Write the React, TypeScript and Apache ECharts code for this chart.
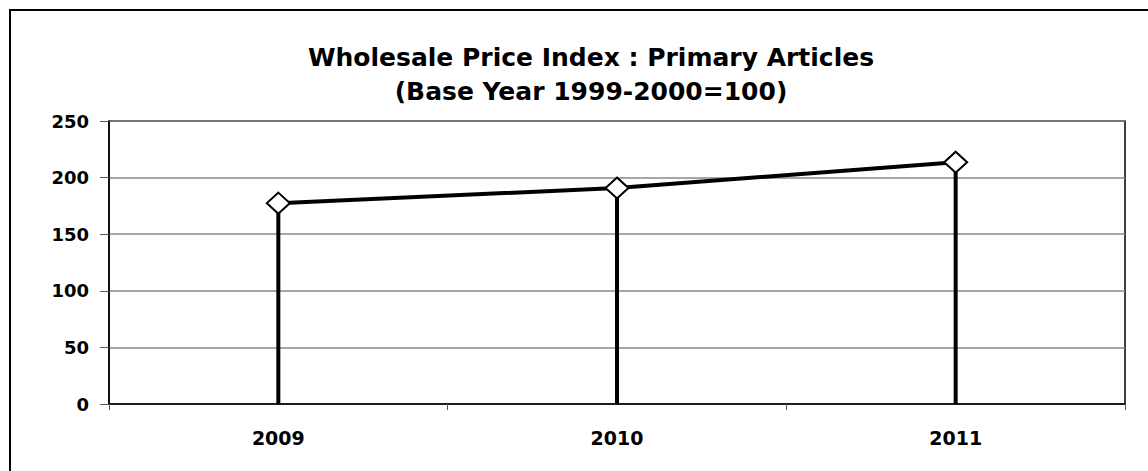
import React, { useEffect, useRef } from "react";
import * as echarts from "echarts";

const categories = ["2009", "2010", "2011"];
const values = [177.4, 190.8, 213.6];
const yTicks = { min: 0, max: 250, interval: 50 };
const titleLines = ["Wholesale Price Index : Primary Articles", "(Base Year 1999-2000=100)"];

const FONT = "DejaVu Sans, Liberation Sans, Arial, sans-serif";

export default function App() {
  const ref = useRef<HTMLDivElement>(null);
  useEffect(() => {
    if (!ref.current) return;
    const chart = echarts.init(ref.current, null, { renderer: "svg" });
    chart.setOption({
      animation: false,
      backgroundColor: "#fff",
      title: {
        text: titleLines.join("\n"),
        left: 586,
        textAlign: "center",
        top: 35,
        textStyle: {
          fontFamily: FONT,
          fontWeight: "bold",
          fontSize: 25,
          lineHeight: 34,
          color: "#000",
        },
      },
      graphic: [
        {
          type: "rect",
          shape: { x: 10, y: 10, width: 1160, height: 480 },
          style: { fill: "none", stroke: "#000", lineWidth: 2 },
          silent: true,
        },
      ],
      grid: {
        left: 109,
        right: 23,
        top: 121,
        bottom: 67,
        show: true,
        borderColor: "#000",
        borderWidth: 1.5,
      },
      xAxis: {
        type: "category",
        data: categories,
        boundaryGap: true,
        axisLine: { show: true, lineStyle: { color: "#000", width: 1.5 } },
        axisTick: { show: true, length: 6, inside: false, lineStyle: { color: "#555" } },
        axisLabel: {
          margin: 24,
          fontFamily: FONT,
          fontWeight: "bold",
          fontSize: 19,
          color: "#000",
        },
        splitLine: { show: false },
      },
      yAxis: {
        type: "value",
        min: yTicks.min,
        max: yTicks.max,
        interval: yTicks.interval,
        axisLine: { show: true, lineStyle: { color: "#000", width: 1.5 } },
        axisTick: { show: true, length: 9, lineStyle: { color: "#555" } },
        axisLabel: {
          margin: 20,
          fontFamily: FONT,
          fontWeight: "bold",
          fontSize: 18,
          color: "#000",
        },
        splitLine: { show: true, lineStyle: { color: "#888", width: 1.5 } },
      },
      series: [
        {
          type: "bar",
          data: values,
          barWidth: 4,
          itemStyle: { color: "#000" },
          silent: true,
        },
        {
          type: "line",
          data: values,
          lineStyle: { color: "#000", width: 4 },
          symbol: "diamond",
          symbolSize: [23, 21],
          itemStyle: { color: "#fff", borderColor: "#000", borderWidth: 2 },
          z: 5,
        },
      ],
    });
    return () => chart.dispose();
  }, []);
  return (
    <div
      ref={ref}
      style={{ position: "absolute", left: 0, top: 0, width: 1148, height: 471 }}
    />
  );
}
